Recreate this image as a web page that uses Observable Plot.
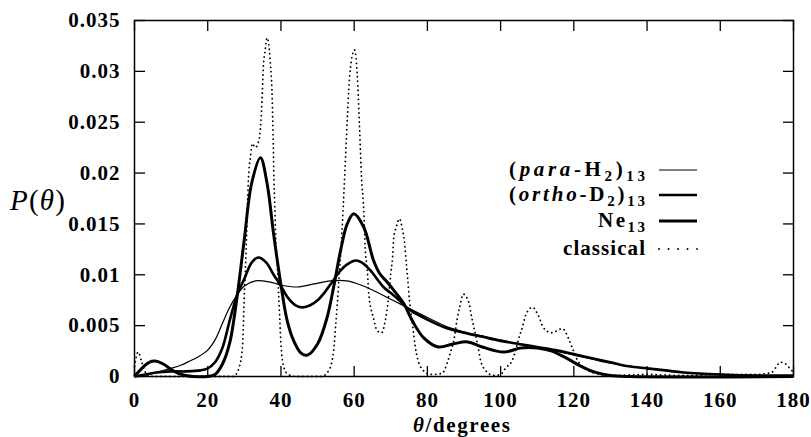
<!DOCTYPE html>
<html><head><meta charset="utf-8">
<script src="https://cdn.jsdelivr.net/npm/d3@7"></script>
<script src="https://cdn.jsdelivr.net/npm/@observablehq/plot@0.6"></script>
<style>body{margin:0;background:#fff} svg{display:block}</style>
</head><body><div id="chart"></div>
<script>
// θ (degrees), P(θ)
const paraH2 = [[0,0],[2,0.0001],[5,0.0003],[8,0.0006],[10,0.0008],[12.6,0.0011],[15,0.0015],[17.2,0.0019],[20,0.0026],[22,0.0036],[24,0.0052],[26,0.0068],[28,0.008],[30,0.0089],[33,0.0094],[35,0.0094],[38,0.0092],[40,0.009],[44.5,0.0088],[49,0.0091],[53.5,0.0094],[58,0.0094],[62.5,0.0089],[65,0.0085],[70,0.0076],[75,0.0067],[80,0.0058],[86,0.0048],[90,0.0044],[95,0.004],[100,0.0036],[105,0.0032],[110,0.0028],[115,0.0025],[120,0.0021],[125,0.0017],[130,0.0013],[135,0.001],[140,0.0008],[145,0.0006],[150,0.0004],[160,0.0002],[170,0.0001],[180,0.0001]];
const orthoD2 = [[0,0],[3,0.0002],[6,0.0004],[10,0.0005],[14,0.0005],[18,0.0006],[20,0.0008],[22,0.0014],[24,0.0028],[26,0.0055],[28,0.008],[30,0.0096],[32,0.0112],[33.8,0.0117],[36,0.0112],[38,0.01],[40,0.0089],[42,0.0077],[44,0.007],[46,0.0068],[48,0.007],[50,0.0075],[52,0.0083],[54,0.0093],[56,0.0103],[58,0.011],[60.5,0.0114],[62.5,0.0111],[64.5,0.0104],[66,0.0097],[68,0.0088],[70,0.0082],[72,0.0076],[75,0.0066],[80,0.0056],[85,0.0048],[90,0.0043],[95,0.0039],[100,0.0035],[105,0.0032],[110,0.0029],[115,0.0026],[120,0.0022],[125,0.0018],[130,0.0014],[135,0.001],[140,0.0008],[145,0.0006],[150,0.0004],[160,0.0002],[170,0.0001],[180,0.0001]];
const ne13 = [[0,0],[2,0.0008],[4,0.0014],[6,0.0015],[8,0.0012],[10,0.0007],[12,0.0003],[14,0.0001],[16,0],[20,0],[22,0.0002],[24,0.0012],[26,0.0033],[28,0.0078],[30,0.0135],[32,0.019],[34.4,0.0215],[36.2,0.019],[38,0.014],[40,0.009],[41.7,0.0055],[43.5,0.0035],[45.5,0.0023],[47.2,0.0021],[50,0.0032],[52.6,0.0058],[54.4,0.0088],[56.3,0.0124],[58.1,0.015],[59.9,0.016],[62.6,0.0147],[65.3,0.0114],[67,0.0101],[69,0.0093],[71,0.0084],[73.5,0.0072],[76,0.0054],[79,0.0038],[83,0.0029],[87,0.0032],[91,0.0034],[95,0.0029],[100.8,0.0024],[105.5,0.0028],[110,0.0028],[114,0.0025],[118,0.0018],[122,0.001],[126,0.0004],[130,0.0001],[135,0],[180,0]];
const classical = [[0,0.001],[1,0.0024],[2,0.0014],[3,0.0004],[4,0],[27,0],[28.5,0.0008],[29.5,0.003],[30,0.008],[30.5,0.0125],[31.1,0.0193],[31.7,0.0217],[32.2,0.0229],[33,0.0225],[33.8,0.023],[34.4,0.0244],[34.9,0.0278],[35.2,0.0305],[35.6,0.0318],[36.2,0.0333],[37.1,0.0309],[37.6,0.0275],[37.9,0.0229],[38.1,0.0193],[38.3,0.017],[38.6,0.0134],[39,0.0111],[39.4,0.0078],[39.7,0.0055],[40,0.0032],[40.8,0.0009],[42,0.0002],[44,0],[51,0],[52.7,0.0004],[54,0.0016],[54.4,0.0026],[54.9,0.0048],[55.4,0.0072],[55.8,0.0094],[56.3,0.012],[57,0.0166],[57.6,0.0212],[58.2,0.0259],[58.5,0.0281],[59,0.0304],[59.5,0.0316],[60.1,0.0321],[60.6,0.031],[61,0.0286],[61.5,0.0242],[62,0.0196],[62.6,0.0165],[63,0.0127],[63.6,0.0104],[64,0.0081],[65.3,0.0057],[66.3,0.0045],[67.5,0.0043],[68.5,0.0055],[69.2,0.0072],[70,0.0101],[70.5,0.0118],[70.8,0.0136],[71.5,0.0147],[72.4,0.0155],[73.2,0.0144],[73.7,0.0134],[74.3,0.0109],[74.6,0.0097],[75.1,0.0075],[75.5,0.0063],[75.9,0.0052],[76.3,0.004],[76.7,0.0029],[77.3,0.0018],[78.6,0.0007],[81,0.0002],[84,0.0003],[85.4,0.0013],[86.3,0.0024],[87.2,0.0035],[88.2,0.0058],[88.8,0.0068],[89.8,0.0081],[91.3,0.0073],[92,0.006],[92.6,0.005],[93.9,0.0028],[94.5,0.0016],[95.9,0.0006],[98,0.0001],[100,0.0002],[101.3,0.0008],[103.2,0.0016],[104.2,0.0027],[105,0.0038],[106,0.0049],[106.8,0.006],[108.7,0.0068],[110.3,0.006],[111.7,0.0048],[113.9,0.0043],[116.9,0.0047],[118.6,0.0037],[119.8,0.0026],[121,0.0016],[123,0.0008],[126,0.0003],[130,0.0001],[140,0.0002],[150,0.0001],[160,0.0002],[170,0.0002],[174,0.0004],[176.5,0.0014],[178,0.0012],[179,0.0008],[180,0.0004]];

const xTicks = [0,20,40,60,80,100,120,140,160,180];
const yTicks = [0,0.005,0.01,0.015,0.02,0.025,0.03,0.035];
const yTickLabels = ["0","0.005","0.01","0.015","0.02","0.025","0.03","0.035"];

// legend labels: [text, kind] where kind: "" normal, "i" italic, "sub" subscript
const legendLabels = [
  [["(",""],["para","i"],["-H",""],["2","sub"],[")",""],["13","sub"]],
  [["(",""],["ortho","i"],["-D",""],["2","sub"],[")",""],["13","sub"]],
  [["Ne",""],["13","sub"]],
  [["classical",""]]
];
const yLabelParts = [["P","i"],["(",""],["θ","i"],[")",""]];
const xLabelParts = [["θ","i"],["/degrees",""]];

const FONT = "'Liberation Serif', serif";
const rows = arr => arr.map(([t, p]) => ({theta: t, p}));

const styles = [
  {data: paraH2, strokeWidth: 1.2, curve: "catmull-rom"},
  {data: orthoD2, strokeWidth: 2.6, curve: "catmull-rom"},
  {data: ne13, strokeWidth: 3, curve: "catmull-rom"},
  {data: classical, strokeWidth: 1.8, curve: "monotone-x", dash: "0.1 4.4"}
];

const plot = Plot.plot({
  width: 811, height: 437,
  marginLeft: 134, marginRight: 18, marginTop: 20, marginBottom: 61,
  style: {fontFamily: FONT, fontSize: "21px", fontWeight: "bold", letterSpacing: "1px", color: "#000", background: "#fff", overflow: "visible"},
  x: {domain: [0, 180], label: null},
  y: {domain: [0, 0.035], label: null},
  marks: [
    ...styles.map(s => Plot.line(rows(s.data), {
      x: "theta", y: "p", stroke: "#000", strokeWidth: s.strokeWidth, curve: s.curve,
      strokeDasharray: s.dash, strokeLinecap: s.dash ? "round" : "butt"
    })),
    Plot.frame({stroke: "#000", strokeWidth: 1.5}),
    Plot.axisX(xTicks, {anchor: "bottom", tickSize: -10, tickFormat: () => "", label: null, strokeWidth: 1.3}),
    Plot.axisX(xTicks, {anchor: "top", tickSize: -10, tickFormat: () => "", label: null, strokeWidth: 1.3}),
    Plot.axisY(yTicks, {anchor: "left", tickSize: -11, tickFormat: () => "", label: null, strokeWidth: 1.3}),
    Plot.axisY(yTicks, {anchor: "right", tickSize: -11, tickFormat: () => "", label: null, strokeWidth: 1.3}),
    Plot.axisX(xTicks, {anchor: "bottom", tickSize: 0, tickPadding: 16, label: null, tickFormat: d => String(d)}),
    Plot.axisY(yTicks, {anchor: "left", tickSize: 0, tickPadding: 14, label: null, tickFormat: (d, i) => yTickLabels[i]})
  ]
});

document.getElementById("chart").appendChild(plot);
const svg = d3.select(plot);

function richText(g, parts, x, y, size, anchor, weight, length) {
  const t = g.append("text").attr("x", x).attr("y", y)
    .style("font-family", FONT).style("font-size", size + "px")
    .style("font-weight", weight).style("letter-spacing", "0px")
    .attr("text-anchor", anchor).attr("fill", "#000");
  if (length) t.attr("textLength", length).attr("lengthAdjust", "spacing");
  let shift = 0;
  for (const [s, kind] of parts) {
    const sp = t.append("tspan").text(s);
    const target = kind === "sub" ? 5 : 0;
    if (target !== shift) { sp.attr("dy", target - shift); shift = target; }
    if (kind === "i") sp.style("font-style", "italic");
    if (kind === "sub") sp.style("font-size", Math.round(size * 0.7) + "px");
  }
  return t;
}

const g = svg.append("g");
richText(g, yLabelParts, 10, 210, 29, "start", "normal", 55);
richText(g, xLabelParts, 413, 432, 21, "start", "bold", 97);

const legendY = [170, 195, 221, 249];
const legendWidths = [136, 136, 47, 82];
legendLabels.forEach((parts, i) => {
  richText(g, parts, 645, legendY[i] + 6, 21, "end", "bold", legendWidths[i]);
  const s = styles[i];
  g.append("line").attr("x1", 659).attr("x2", 697).attr("y1", legendY[i]).attr("y2", legendY[i])
    .attr("stroke", "#000").attr("stroke-width", s.strokeWidth)
    .attr("stroke-dasharray", s.dash ? "0.1 9.4" : null)
    .attr("stroke-linecap", s.dash ? "round" : "butt");
});
</script>
</body></html>
